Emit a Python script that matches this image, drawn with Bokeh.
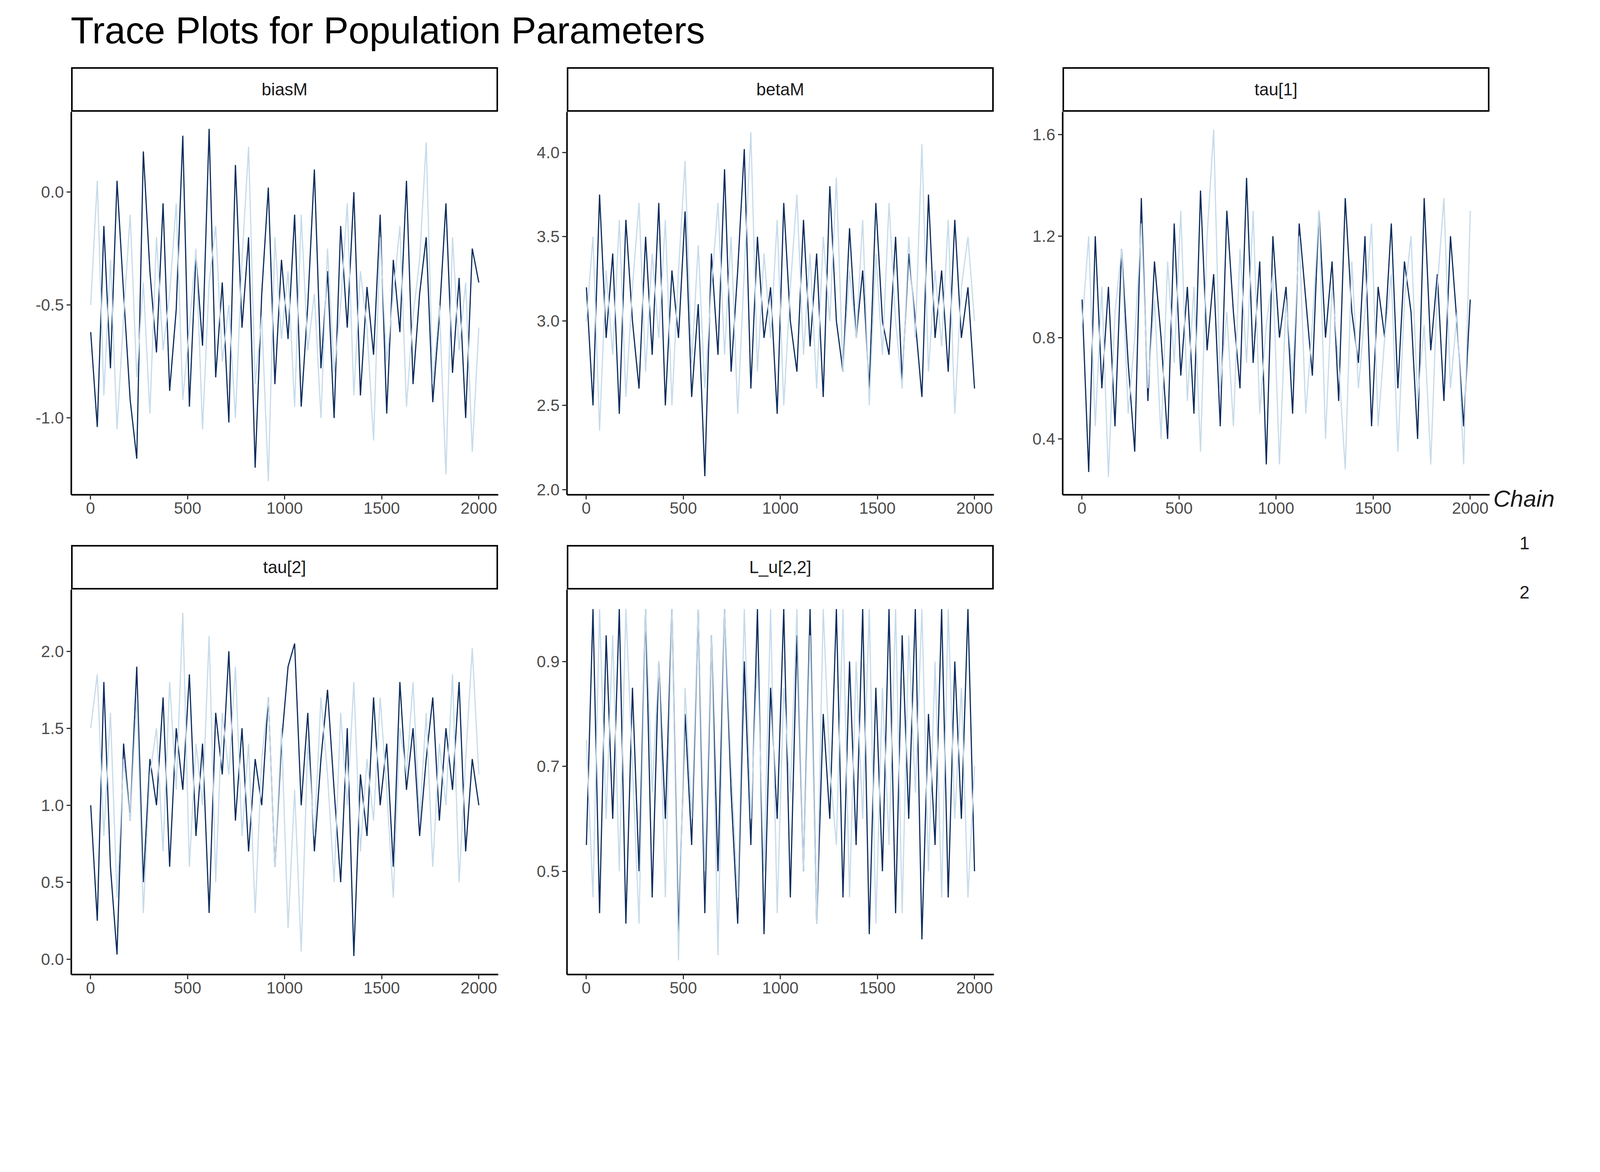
import numpy as np
from bokeh.plotting import figure
from bokeh.models import Div, Spacer, Range1d, FixedTicker, Legend, LegendItem
from bokeh.layouts import row, column
from bokeh.embed import file_html
from bokeh.resources import INLINE

# trace values (thinned, roughly every 34 iterations)
biasM_1 = [-0.62,-1.04,-0.15,-0.78,0.05,-0.45,-0.92,-1.18,0.18,-0.35,-0.71,-0.05,-0.88,-0.52,0.25,-0.95,-0.28,-0.68,0.28,-0.82,-0.4,-1.02,0.12,-0.6,-0.2,-1.22,-0.45,0.02,-0.85,-0.3,-0.65,-0.1,-0.95,-0.5,0.1,-0.78,-0.35,-1.0,-0.15,-0.6,0.0,-0.9,-0.42,-0.72,-0.1,-0.98,-0.3,-0.62,0.05,-0.85,-0.45,-0.2,-0.93,-0.55,-0.05,-0.8,-0.38,-1.0,-0.25,-0.4]
biasM_2 = [-0.5,0.05,-0.9,-0.3,-1.05,-0.55,-0.1,-0.82,-0.4,-0.98,-0.2,-0.7,-0.45,-0.05,-0.92,-0.6,-0.25,-1.05,-0.4,-0.15,-0.75,-0.5,-1.0,-0.3,0.2,-0.85,-0.55,-1.28,-0.2,-0.65,-0.35,-0.95,-0.1,-0.7,-0.45,-1.0,-0.25,-0.8,-0.5,-0.05,-0.9,-0.35,-0.6,-1.1,-0.2,-0.75,-0.45,-0.15,-0.95,-0.55,-0.3,0.22,-0.85,-0.5,-1.25,-0.2,-0.7,-0.4,-1.15,-0.6]
betaM_1 = [3.2,2.5,3.75,2.9,3.4,2.45,3.6,3.0,2.6,3.5,2.8,3.7,2.5,3.3,2.9,3.65,2.55,3.1,2.08,3.4,2.8,3.9,2.7,3.3,4.02,2.6,3.5,2.9,3.2,2.45,3.7,3.0,2.7,3.6,2.85,3.4,2.55,3.8,3.0,2.7,3.55,2.9,3.3,2.6,3.7,3.0,2.8,3.5,2.65,3.4,3.0,2.55,3.75,2.9,3.3,2.7,3.6,2.9,3.2,2.6]
betaM_2 = [3.0,3.5,2.35,3.3,2.8,3.6,2.55,3.2,3.7,2.7,3.4,2.9,3.6,2.5,3.3,3.95,2.75,3.45,2.6,3.2,3.7,2.8,3.5,2.45,3.3,4.12,2.7,3.4,2.9,3.6,2.5,3.2,3.75,2.8,3.4,2.6,3.5,3.0,3.85,2.7,3.3,2.9,3.6,2.5,3.4,2.8,3.7,3.0,2.6,3.5,2.9,4.05,2.7,3.3,2.85,3.6,2.45,3.2,3.5,3.0]
tau1_1 = [0.95,0.27,1.2,0.6,1.0,0.45,1.15,0.7,0.35,1.35,0.55,1.1,0.8,0.4,1.25,0.65,1.0,0.5,1.38,0.75,1.05,0.45,1.3,0.9,0.6,1.43,0.7,1.1,0.3,1.2,0.8,1.0,0.5,1.25,0.95,0.65,1.3,0.8,1.1,0.55,1.35,0.9,0.7,1.2,0.45,1.0,0.8,1.25,0.6,1.1,0.9,0.4,1.35,0.75,1.05,0.55,1.2,0.85,0.45,0.95]
tau1_2 = [0.85,1.2,0.45,1.0,0.25,0.9,1.15,0.5,0.8,1.25,0.6,0.95,0.4,1.1,0.7,1.3,0.55,1.0,0.35,1.2,1.62,0.6,0.9,0.45,1.15,0.7,1.3,0.5,0.85,1.05,0.3,0.95,0.65,1.2,0.5,0.85,1.3,0.4,1.0,0.7,0.28,1.1,0.6,0.9,1.25,0.45,0.8,1.05,0.35,0.95,1.2,0.55,0.85,0.3,1.0,1.35,0.6,0.9,0.3,1.3]
tau2_1 = [1.0,0.25,1.8,0.6,0.03,1.4,0.9,1.9,0.5,1.3,1.0,1.7,0.6,1.5,1.1,1.85,0.8,1.4,0.3,1.6,1.2,2.0,0.9,1.5,0.7,1.3,1.0,1.7,0.6,1.4,1.9,2.05,1.0,1.6,0.7,1.3,1.75,1.1,0.5,1.5,0.02,1.2,0.8,1.7,1.0,1.4,0.6,1.8,1.1,1.5,0.8,1.3,1.7,0.9,1.5,1.1,1.8,0.7,1.3,1.0]
tau2_2 = [1.5,1.85,0.8,1.6,0.4,1.3,0.9,1.7,0.3,1.2,1.5,0.7,1.8,1.1,2.25,0.6,1.4,1.0,2.1,0.5,1.6,1.2,1.9,0.8,1.4,0.3,1.3,1.7,0.6,1.5,0.2,1.1,0.05,1.4,0.8,1.7,1.2,0.5,1.6,1.0,1.8,0.7,1.3,0.9,1.7,1.1,0.4,1.5,1.2,1.8,0.9,1.6,0.6,1.4,1.0,1.85,0.5,1.3,2.02,1.2]
Lu_1 = [0.55,1.0,0.42,0.95,0.6,1.0,0.4,0.85,0.5,1.0,0.45,0.9,0.6,1.0,0.38,0.8,0.55,1.0,0.42,0.95,0.5,1.0,0.65,0.4,0.9,0.55,1.0,0.38,0.85,0.6,1.0,0.45,0.95,0.5,1.0,0.4,0.8,0.6,1.0,0.45,0.9,0.55,1.0,0.38,0.85,0.5,1.0,0.42,0.95,0.6,1.0,0.37,0.8,0.55,1.0,0.45,0.9,0.6,1.0,0.5]
Lu_2 = [0.75,0.45,1.0,0.6,0.95,0.5,1.0,0.7,0.4,1.0,0.65,0.9,0.45,1.0,0.33,0.85,0.6,1.0,0.5,0.95,0.34,1.0,0.7,0.45,1.0,0.6,0.9,0.5,1.0,0.42,0.85,0.65,1.0,0.5,0.95,0.4,1.0,0.7,0.55,1.0,0.45,0.9,0.6,1.0,0.4,0.85,0.55,1.0,0.42,0.95,0.65,1.0,0.5,0.9,0.45,1.0,0.6,0.85,0.45,0.7]

x_ticks = [0, 500, 1000, 1500, 2000]
C1 = "#0B2B5C"
C2 = "#C6DBEA"
FONT = "Liberation Sans"
LEFT, RIGHT, PW = 166, 10, 1093
STRIP_H = 114


def panel(name, c1, c2, yr, yticks, h, bottom):
    strip = Div(text=name, width=PW, height=STRIP_H, margin=(0, 0, 0, LEFT),
                styles={"border": "4px solid black", "box-sizing": "border-box",
                        "display": "flex", "align-items": "center", "justify-content": "center",
                        "font-family": FONT, "font-size": "44px", "color": "#1a1a1a",
                        "width": "%dpx" % PW, "height": "%dpx" % STRIP_H})
    p = figure(width=LEFT + PW + RIGHT, height=h, output_backend="svg", toolbar_location=None,
               x_range=Range1d(-99, 2100), y_range=Range1d(*yr),
               min_border_left=LEFT, min_border_right=RIGHT, min_border_top=0,
               min_border_bottom=bottom)
    x = np.linspace(1, 2000, len(c1))
    p.line(x, c1, color=C1, line_width=3)
    p.line(x, c2, color=C2, line_width=3)
    p.grid.visible = False
    p.outline_line_color = None
    p.xaxis.ticker = FixedTicker(ticks=x_ticks)
    p.yaxis.ticker = FixedTicker(ticks=yticks)
    p.yaxis.major_label_overrides = {t: "%.1f" % t for t in yticks}
    for ax in (p.xaxis, p.yaxis):
        ax.axis_line_width = 4
        ax.axis_line_color = "black"
        ax.major_tick_line_width = 3
        ax.major_tick_line_color = "#333333"
        ax.major_tick_out = 12
        ax.major_tick_in = 0
        ax.minor_tick_line_color = None
        ax.major_label_text_font = FONT
        ax.major_label_text_font_size = "42px"
        ax.major_label_text_color = "#4d4d4d"
        ax.major_label_standoff = 7
    return column(strip, p, spacing=0)


H1, B1 = 1109, 129
H2, B2 = 1081, 96
p1 = panel("biasM", biasM_1, biasM_2, (-1.34, 0.355), [-1.0, -0.5, 0.0], H1, B1)
p2 = panel("betaM", betaM_1, betaM_2, (1.97, 4.24), [2.0, 2.5, 3.0, 3.5, 4.0], H1, B1)
p3 = panel("tau[1]", tau1_1, tau1_2, (0.18, 1.69), [0.4, 0.8, 1.2, 1.6], H1, B1)
p4 = panel("tau[2]", tau2_1, tau2_2, (-0.10, 2.40), [0.0, 0.5, 1.0, 1.5, 2.0], H2, B2)
p5 = panel("L_u[2,2]", Lu_1, Lu_2, (0.303, 1.037), [0.5, 0.7, 0.9], H2, B2)

# legend panel
lg = figure(width=367, height=2437, output_backend="svg", toolbar_location=None,
            x_range=Range1d(0, 1), y_range=Range1d(0, 1), min_border=0)
lg.axis.visible = False
lg.grid.visible = False
lg.outline_line_color = None
r1 = lg.line([], [], color=C1, line_width=3)
r2 = lg.line([], [], color=C2, line_width=3)
legend = Legend(items=[LegendItem(label="1", renderers=[r1]), LegendItem(label="2", renderers=[r2])],
                location=(0, 1050), title="Chain", border_line_color=None, background_fill_alpha=0,
                title_text_font=FONT, title_text_font_size="60px", title_text_color="#1a1a1a",
                label_text_font=FONT, label_text_font_size="46px", label_text_color="#1a1a1a",
                glyph_width=62, glyph_height=87, label_height=87, spacing=39,
                title_standoff=35, padding=8)
lg.add_layout(legend)

title = Div(text="Trace Plots for Population Parameters", width=2600, height=162,
            styles={"font-family": FONT, "font-size": "96px", "color": "black",
                    "padding-left": "176px", "padding-top": "4px", "white-space": "nowrap"})

grid = column(row(p1, p2, p3, spacing=0), row(p4, p5, spacing=0), spacing=0)
layout = column(title, row(Spacer(width=16), grid, lg, spacing=0), spacing=0)

open("out.html", "w").write(file_html(layout, INLINE))
